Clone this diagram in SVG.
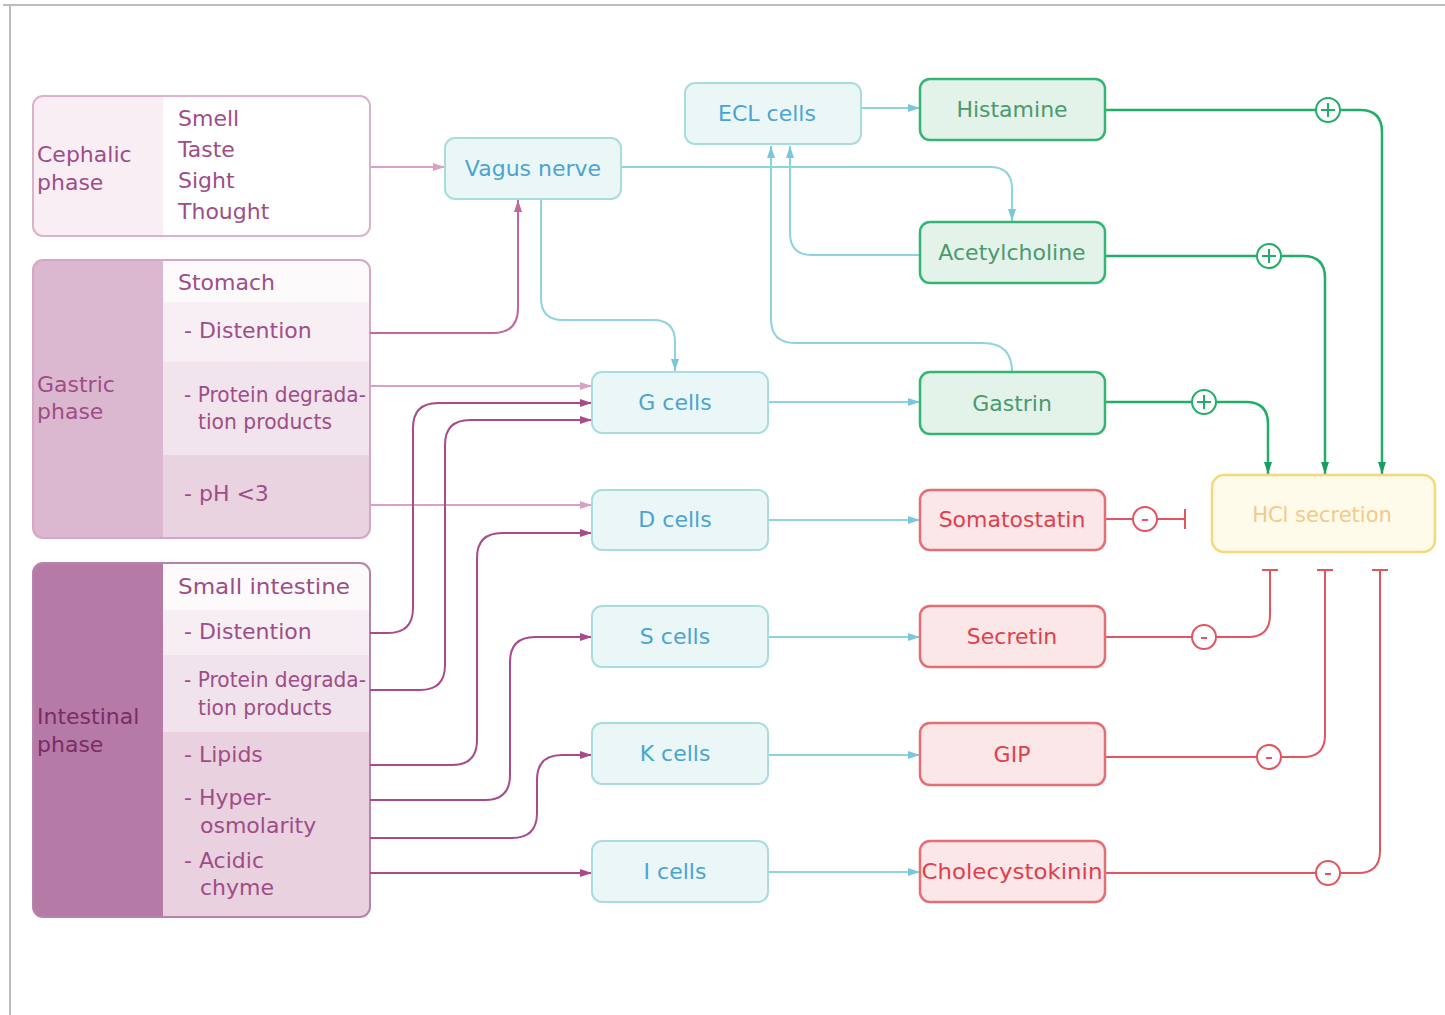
<svg xmlns="http://www.w3.org/2000/svg" width="1445" height="1015" viewBox="0 0 1445 1015">
<style>
text{font-family:"DejaVu Sans","Liberation Sans",sans-serif;font-size:21px}
.ph{fill:#9e4d87;font-size:22px}
.phd{fill:#7a2c66;font-size:22px}
.blue rect{fill:#ebf7f7;stroke:#a9dcdf;stroke-width:2}
.blue text{fill:#4aa4d2;text-anchor:middle;font-size:22px}
.green rect{fill:#e3f3e9;stroke:#35b574;stroke-width:2.5}
.green text{fill:#4a9a6e;text-anchor:middle;font-size:22px}
.red rect{fill:#fbe7e8;stroke:#e36e74;stroke-width:2.5}
.red text{fill:#e23d4c;text-anchor:middle;font-size:22px}
.c{fill:none;stroke-width:2}
.lp{stroke:#d9a2c4}
.mp{stroke:#c0679f}
.dp{stroke:#a84b8c}
.bl{stroke:#8fd2e0}
.gr{stroke:#22ad68;stroke-width:2.5}
.rd{stroke:#e2545f}
.sym{fill:#fff;stroke-width:2}
</style>
<defs>
<marker id="aLP" viewBox="0 0 12 8" refX="12" refY="4" markerWidth="12" markerHeight="8" markerUnits="userSpaceOnUse" orient="auto"><path d="M0,0 L12,4 L0,8 z" fill="#d9a2c4"/></marker>
<marker id="aMP" viewBox="0 0 12 8" refX="12" refY="4" markerWidth="12" markerHeight="8" markerUnits="userSpaceOnUse" orient="auto"><path d="M0,0 L12,4 L0,8 z" fill="#c0679f"/></marker>
<marker id="aDP" viewBox="0 0 12 8" refX="12" refY="4" markerWidth="12" markerHeight="8" markerUnits="userSpaceOnUse" orient="auto"><path d="M0,0 L12,4 L0,8 z" fill="#a84b8c"/></marker>
<marker id="aBL" viewBox="0 0 12 8" refX="12" refY="4" markerWidth="12" markerHeight="8" markerUnits="userSpaceOnUse" orient="auto"><path d="M0,0 L12,4 L0,8 z" fill="#7cc6dc"/></marker>
<marker id="aGR" viewBox="0 0 12 8" refX="12" refY="4" markerWidth="12" markerHeight="8" markerUnits="userSpaceOnUse" orient="auto"><path d="M0,0 L12,4 L0,8 z" fill="#1a9e5e"/></marker>
<clipPath id="cpC"><rect x="33" y="96" width="337" height="140" rx="10"/></clipPath>
<clipPath id="cpG"><rect x="33" y="260" width="337" height="278" rx="10"/></clipPath>
<clipPath id="cpI"><rect x="33" y="563" width="337" height="354" rx="10"/></clipPath>
</defs>
<rect width="1445" height="1015" fill="#fff"/>
<path d="M3,5 H1445 M10,5 V1015" stroke="#b9bdc1" stroke-width="2" fill="none"/>

<g id="cephalic">
<g clip-path="url(#cpC)">
<rect x="33" y="96" width="337" height="140" fill="#fff"/>
<rect x="33" y="96" width="130" height="140" fill="#f8eef4"/>
</g>
<rect x="33" y="96" width="337" height="140" rx="10" fill="none" stroke="#dbb2cb" stroke-width="2"/>
<text class="ph" x="37" y="162">Cephalic</text>
<text class="ph" x="37" y="190">phase</text>
<text class="ph" x="178" y="126">Smell</text>
<text class="ph" x="178" y="157">Taste</text>
<text class="ph" x="178" y="188">Sight</text>
<text class="ph" x="178" y="219">Thought</text>
</g>

<g id="gastric">
<g clip-path="url(#cpG)">
<rect x="33" y="260" width="337" height="42" fill="#fdfafc"/>
<rect x="33" y="302" width="337" height="60" fill="#f7eff3"/>
<rect x="33" y="362" width="337" height="93" fill="#f2e4ec"/>
<rect x="33" y="455" width="337" height="83" fill="#e9d3e1"/>
<rect x="33" y="260" width="130" height="278" fill="#dcb8d0"/>
</g>
<rect x="33" y="260" width="337" height="278" rx="10" fill="none" stroke="#d7a5c5" stroke-width="2"/>
<text class="ph" x="37" y="392">Gastric</text>
<text class="ph" x="37" y="419">phase</text>
<text class="ph" x="178" y="290">Stomach</text>
<text class="ph" x="184" y="338">- Distention</text>
<text class="ph" x="184" y="402" textLength="182" lengthAdjust="spacingAndGlyphs">- Protein degrada-</text>
<text class="ph" x="198" y="429" textLength="134" lengthAdjust="spacingAndGlyphs">tion products</text>
<text class="ph" x="184" y="501">- pH &lt;3</text>
</g>

<g id="intestinal">
<g clip-path="url(#cpI)">
<rect x="33" y="563" width="337" height="47" fill="#fdfafc"/>
<rect x="33" y="610" width="337" height="45" fill="#f6eef2"/>
<rect x="33" y="655" width="337" height="77" fill="#f1e3eb"/>
<rect x="33" y="732" width="337" height="185" fill="#e9d1e0"/>
<rect x="33" y="563" width="130" height="354" fill="#b67aa6"/>
</g>
<rect x="33" y="563" width="337" height="354" rx="10" fill="none" stroke="#b883aa" stroke-width="2"/>
<text class="phd" x="37" y="724">Intestinal</text>
<text class="phd" x="37" y="752">phase</text>
<text class="ph" x="178" y="594" textLength="172" lengthAdjust="spacingAndGlyphs">Small intestine</text>
<text class="ph" x="184" y="639">- Distention</text>
<text class="ph" x="184" y="687" textLength="182" lengthAdjust="spacingAndGlyphs">- Protein degrada-</text>
<text class="ph" x="198" y="715" textLength="134" lengthAdjust="spacingAndGlyphs">tion products</text>
<text class="ph" x="184" y="762">- Lipids</text>
<text class="ph" x="184" y="805">- Hyper-</text>
<text class="ph" x="200" y="833">osmolarity</text>
<text class="ph" x="184" y="868">- Acidic</text>
<text class="ph" x="200" y="895">chyme</text>
</g>

<g id="connectors">
<path class="c lp" d="M370,167 H445" marker-end="url(#aLP)"/>
<path class="c mp" d="M370,333 H493 Q518,333 518,308 V200" marker-end="url(#aMP)"/>
<path class="c lp" d="M370,386 H592" marker-end="url(#aLP)"/>
<path class="c lp" d="M370,505 H592" marker-end="url(#aLP)"/>
<path class="c dp" d="M370,633 H388 Q413,633 413,608 V428 Q413,403 438,403 H592" marker-end="url(#aDP)"/>
<path class="c dp" d="M370,690 H420 Q445,690 445,665 V445 Q445,420 470,420 H592" marker-end="url(#aDP)"/>
<path class="c dp" d="M370,765 H452 Q477,765 477,740 V558 Q477,533 502,533 H592" marker-end="url(#aDP)"/>
<path class="c dp" d="M370,800 H485 Q510,800 510,775 V662 Q510,637 535,637 H592" marker-end="url(#aDP)"/>
<path class="c dp" d="M370,838 H512 Q537,838 537,813 V780 Q537,755 562,755 H592" marker-end="url(#aDP)"/>
<path class="c dp" d="M370,873 H592" marker-end="url(#aDP)"/>

<path class="c bl" d="M621,167 H990 Q1012,167 1012,189 V221" marker-end="url(#aBL)"/>
<path class="c bl" d="M541,200 V298 Q541,320 563,320 H653 Q675,320 675,342 V371" marker-end="url(#aBL)"/>
<path class="c bl" d="M920,255 H812 Q790,255 790,233 V146" marker-end="url(#aBL)"/>
<path class="c bl" d="M1012,372 Q1012,343 983,343 H795 Q771,343 771,319 V146" marker-end="url(#aBL)"/>
<path class="c bl" d="M861,108 H920" marker-end="url(#aBL)"/>
<path class="c bl" d="M768,402 H920" marker-end="url(#aBL)"/>
<path class="c bl" d="M768,520 H920" marker-end="url(#aBL)"/>
<path class="c bl" d="M768,637 H920" marker-end="url(#aBL)"/>
<path class="c bl" d="M768,755 H920" marker-end="url(#aBL)"/>
<path class="c bl" d="M768,872 H920" marker-end="url(#aBL)"/>

<path class="c gr" d="M1105,110 H1316 M1340,110 H1360 Q1382,110 1382,132 V474" marker-end="url(#aGR)"/>
<path class="c gr" d="M1105,256 H1257 M1281,256 H1303 Q1325,256 1325,278 V474" marker-end="url(#aGR)"/>
<path class="c gr" d="M1105,402 H1192 M1216,402 H1246 Q1268,402 1268,424 V474" marker-end="url(#aGR)"/>

<path class="c rd" d="M1105,519 H1133 M1157,519 H1185 M1185,509 V529"/>
<path class="c rd" d="M1105,637 H1192 M1216,637 H1248 Q1270,637 1270,615 V570 M1262,570 H1278"/>
<path class="c rd" d="M1105,757 H1257 M1281,757 H1303 Q1325,757 1325,735 V570 M1317,570 H1333"/>
<path class="c rd" d="M1105,873 H1316 M1340,873 H1358 Q1380,873 1380,851 V570 M1372,570 H1388"/>

<g stroke="#22ad68" fill="#22ad68">
<circle class="sym" cx="1328" cy="110" r="12"/><path d="M1328,103 V117 M1321,110 H1335" stroke-width="2"/>
<circle class="sym" cx="1269" cy="256" r="12"/><path d="M1269,249 V263 M1262,256 H1276" stroke-width="2"/>
<circle class="sym" cx="1204" cy="402" r="12"/><path d="M1204,395 V409 M1197,402 H1211" stroke-width="2"/>
</g>
<g stroke="#e2545f">
<circle class="sym" cx="1145" cy="519" r="12"/><path d="M1142,520 H1148" stroke-width="2"/>
<circle class="sym" cx="1204" cy="637" r="12"/><path d="M1201,638 H1207" stroke-width="2"/>
<circle class="sym" cx="1269" cy="757" r="12"/><path d="M1266,758 H1272" stroke-width="2"/>
<circle class="sym" cx="1328" cy="873" r="12"/><path d="M1325,874 H1331" stroke-width="2"/>
</g>
</g>

<g id="ecl" class="blue"><rect x="685" y="83" width="176" height="61" rx="10"/><text x="767" y="121">ECL cells</text></g>
<g id="vagus" class="blue"><rect x="445" y="138" width="176" height="61" rx="10"/><text x="533" y="176">Vagus nerve</text></g>
<g id="gcells" class="blue"><rect x="592" y="372" width="176" height="61" rx="10"/><text x="675" y="410">G cells</text></g>
<g id="dcells" class="blue"><rect x="592" y="490" width="176" height="60" rx="10"/><text x="675" y="527">D cells</text></g>
<g id="scells" class="blue"><rect x="592" y="606" width="176" height="61" rx="10"/><text x="675" y="644">S cells</text></g>
<g id="kcells" class="blue"><rect x="592" y="723" width="176" height="61" rx="10"/><text x="675" y="761">K cells</text></g>
<g id="icells" class="blue"><rect x="592" y="841" width="176" height="61" rx="10"/><text x="675" y="879">I cells</text></g>

<g id="histamine" class="green"><rect x="920" y="79" width="185" height="61" rx="10"/><text x="1012" y="117">Histamine</text></g>
<g id="acetylcholine" class="green"><rect x="920" y="222" width="185" height="61" rx="10"/><text x="1012" y="260">Acetylcholine</text></g>
<g id="gastrin" class="green"><rect x="920" y="372" width="185" height="62" rx="10"/><text x="1012" y="411">Gastrin</text></g>

<g id="somatostatin" class="red"><rect x="920" y="490" width="185" height="60" rx="10"/><text x="1012" y="527">Somatostatin</text></g>
<g id="secretin" class="red"><rect x="920" y="606" width="185" height="61" rx="10"/><text x="1012" y="644">Secretin</text></g>
<g id="gip" class="red"><rect x="920" y="723" width="185" height="62" rx="10"/><text x="1012" y="762">GIP</text></g>
<g id="cck" class="red"><rect x="920" y="841" width="185" height="61" rx="10"/><text x="1012" y="879" textLength="181" lengthAdjust="spacingAndGlyphs">Cholecystokinin</text></g>

<g id="hcl"><rect x="1212" y="475" width="223" height="77" rx="12" fill="#fffbea" stroke="#f5d77c" stroke-width="2.5"/><text x="1322" y="522" text-anchor="middle" fill="#f3c98c" font-size="22">HCl secretion</text></g>
</svg>
